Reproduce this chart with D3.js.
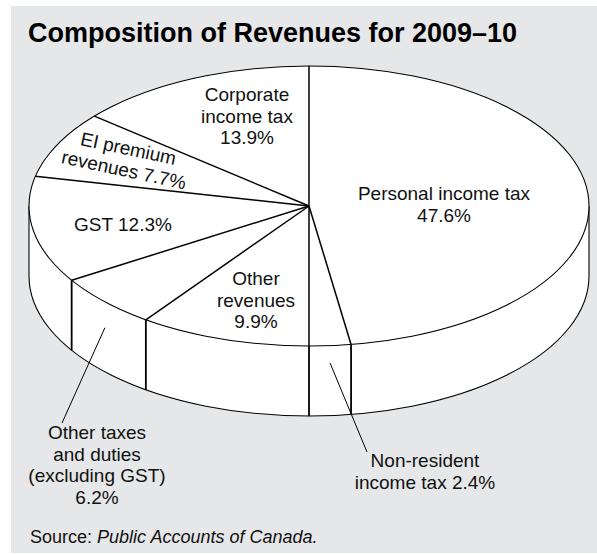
<!DOCTYPE html>
<html>
<head>
<meta charset="utf-8">
<script src="https://cdn.jsdelivr.net/npm/d3@7"></script>
<style>
  html, body { margin: 0; padding: 0; background: #ffffff; }
  svg { display: block; font-family: "Liberation Sans", Arial, Helvetica, sans-serif; }
</style>
</head>
<body>
<svg id="chart" width="597" height="554"></svg>
<script>
// Revenue categories, clockwise from 12 o'clock
const categories = [
  "Personal income tax",
  "Non-resident income tax",
  "Other revenues",
  "Other taxes and duties (excluding GST)",
  "GST",
  "EI premium revenues",
  "Corporate income tax"
];
// Share of total revenues, per cent
const shares = [47.6, 2.4, 9.9, 6.2, 12.3, 7.7, 13.9];
// Label lines per category; {v} is replaced with the formatted share
const labelLines = [
  ["Personal income tax", "{v}"],
  ["Non-resident", "income tax {v}"],
  ["Other", "revenues", "{v}"],
  ["Other taxes", "and duties", "(excluding GST)", "{v}"],
  ["GST {v}"],
  ["EI premium", "revenues {v}"],
  ["Corporate", "income tax", "{v}"]
];
const titleText = "Composition of Revenues for 2009\u201310";
const sourceLead = "Source: ";
const sourceName = "Public Accounts of Canada.";

// ---- layout ----
const W = 597, H = 554;
const cx = 309, cy = 206, rx = 280, ry = 140, depth = 70;
const fontSize = 19, lineH = 21.7;

// label placement: first-baseline anchor, optional rotation
const labelPlace = [
  { x: 444, y: 200 },
  { x: 425, y: 467 },
  { x: 256, y: 285 },
  { x: 97,  y: 439 },
  { x: 123, y: 231 },
  { x: 127, y: 155, rotate: 12 },
  { x: 247, y: 101 }
];
// leaders: start inside the slice's side wall (fraction of depth), end near label
const leaders = {
  1: { wall: 0.25, end: [367, 452] },
  3: { wall: 0.37, end: [62, 423] }
};

const svg = d3.select("#chart");
const fmt = v => d3.format(".1f")(v) + "%";

// background panel
svg.append("rect")
  .attr("x", 11).attr("y", 6).attr("width", W - 11).attr("height", 547)
  .attr("fill", "#e6e7e8");

// title
svg.append("text")
  .attr("x", 28).attr("y", 42)
  .attr("font-size", 27).attr("font-weight", "bold").attr("fill", "#000")
  .text(titleText);

// ellipse scales: unit circle -> projected disc
const sx = d3.scaleLinear().domain([-1, 1]).range([cx - rx, cx + rx]);
const sy = d3.scaleLinear().domain([-1, 1]).range([cy - ry, cy + ry]);
const pt = (a, k = 1) => [sx(k * Math.sin(a)), sy(-k * Math.cos(a))];

const pie = d3.pie().sort(null).value(d => d.value);
const arcs = pie(categories.map((c, i) => ({ name: c, value: shares[i], idx: i })));

const FRONT0 = Math.PI / 2, FRONT1 = 3 * Math.PI / 2;

function topPath(d) {
  const [x0, y0] = pt(d.startAngle), [x1, y1] = pt(d.endAngle);
  const large = d.endAngle - d.startAngle > Math.PI ? 1 : 0;
  return `M${cx},${cy}L${x0},${y0}A${rx},${ry} 0 ${large} 1 ${x1},${y1}Z`;
}
function sidePath(a, b) {
  const [x0, y0] = pt(a), [x1, y1] = pt(b);
  return `M${x0},${y0}A${rx},${ry} 0 0 1 ${x1},${y1}L${x1},${y1 + depth}` +
         `A${rx},${ry} 0 0 0 ${x0},${y0 + depth}Z`;
}

const pieG = svg.append("g");

// side walls (front half only)
const walls = arcs
  .map(d => ({ d, a: Math.max(d.startAngle, FRONT0), b: Math.min(d.endAngle, FRONT1) }))
  .filter(w => w.b > w.a);
pieG.selectAll("path.wall").data(walls).join("path")
  .attr("class", "wall")
  .attr("d", w => sidePath(w.a, w.b))
  .attr("fill", "#fff").attr("stroke", "none");

// bottom rim and silhouette edges
{
  const [x0, y0] = pt(FRONT0), [x1, y1] = pt(FRONT1);
  pieG.append("path")
    .attr("d", `M${x0},${y0 + depth}A${rx},${ry} 0 0 1 ${x1},${y1 + depth}`)
    .attr("fill", "none").attr("stroke", "#000").attr("stroke-width", 1.1);
  [[x0, y0], [x1, y1]].forEach(([xx, yy]) => {
    pieG.append("line")
      .attr("x1", xx).attr("y1", yy).attr("x2", xx).attr("y2", yy + depth)
      .attr("stroke", "#000").attr("stroke-width", 1.1);
  });
}

// wall seams at slice boundaries
const seams = arcs.map(d => d.startAngle).filter(a => a > FRONT0 && a < FRONT1);
pieG.selectAll("line.seam").data(seams).join("line")
  .attr("class", "seam")
  .attr("x1", a => pt(a)[0]).attr("y1", a => pt(a)[1])
  .attr("x2", a => pt(a)[0]).attr("y2", a => pt(a)[1] + depth)
  .attr("stroke", "#000").attr("stroke-width", 1.8);

// top face slices
pieG.selectAll("path.slice").data(arcs).join("path")
  .attr("class", "slice")
  .attr("d", topPath)
  .attr("fill", "#fff").attr("stroke", "none");

// radial dividers
pieG.selectAll("line.radial").data(arcs).join("line")
  .attr("class", "radial")
  .attr("x1", cx).attr("y1", cy)
  .attr("x2", d => pt(d.startAngle)[0]).attr("y2", d => pt(d.startAngle)[1])
  .attr("stroke", "#000").attr("stroke-width", 1.5);

// top rim
pieG.append("ellipse")
  .attr("cx", cx).attr("cy", cy).attr("rx", rx).attr("ry", ry)
  .attr("fill", "none").attr("stroke", "#000").attr("stroke-width", 1.1);

// leader lines
Object.entries(leaders).forEach(([i, L]) => {
  const d = arcs[+i];
  const mid = (d.startAngle + d.endAngle) / 2;
  const [x0, y0] = pt(mid);
  svg.append("line")
    .attr("x1", x0).attr("y1", y0 + depth * L.wall)
    .attr("x2", L.end[0]).attr("y2", L.end[1])
    .attr("stroke", "#000").attr("stroke-width", 1);
});

// labels
const labG = svg.append("g")
  .attr("font-size", fontSize).attr("fill", "#111").attr("text-anchor", "middle");
arcs.forEach((d, i) => {
  const p = labelPlace[i];
  const t = labG.append("text")
    .attr("transform", `translate(${p.x},${p.y})` + (p.rotate ? ` rotate(${p.rotate})` : ""));
  labelLines[i].forEach((ln, j) => {
    t.append("tspan").attr("x", 0).attr("y", j * lineH)
      .text(ln.replace("{v}", fmt(shares[i])));
  });
});

// source note
const src = svg.append("text")
  .attr("x", 30).attr("y", 543).attr("font-size", 18).attr("fill", "#111");
src.append("tspan").text(sourceLead);
src.append("tspan").attr("font-style", "italic").text(sourceName);
</script>
</body>
</html>
